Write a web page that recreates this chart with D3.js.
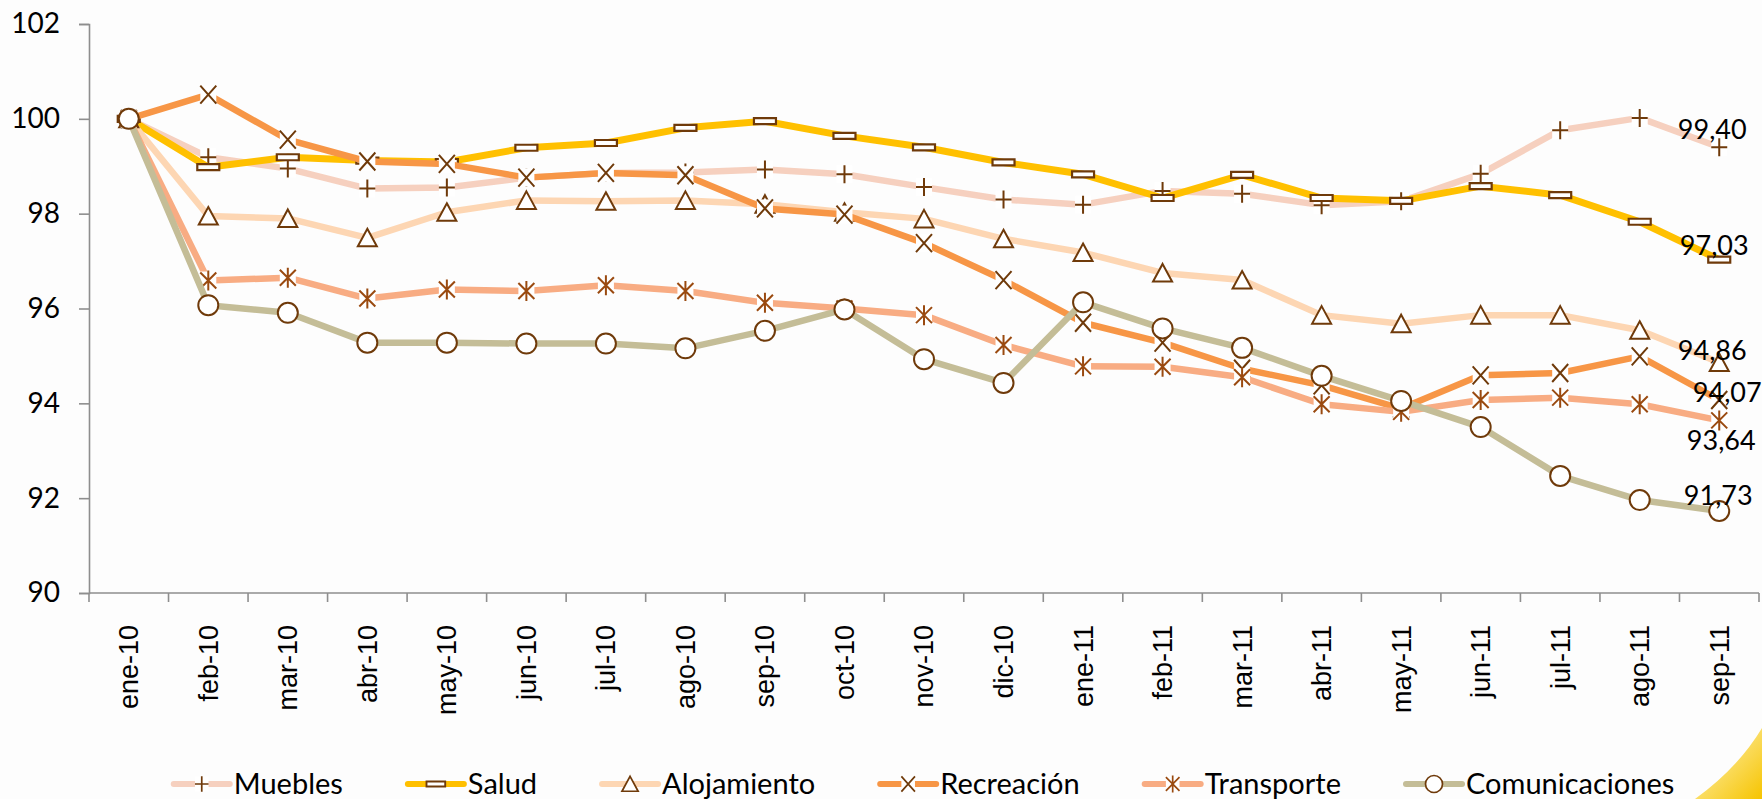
<!DOCTYPE html>
<html>
<head>
<meta charset="utf-8">
<script src="https://cdn.jsdelivr.net/npm/d3@7"></script>
<style>
  body { margin: 0; background: #fdfdfd; }
  svg { display: block; }
</style>
</head>
<body>
<div class="chart"></div>
<script>
// data (indice, ene-10 = 100)
const months = ["ene-10", "feb-10", "mar-10", "abr-10", "may-10", "jun-10", "jul-10",
  "ago-10", "sep-10", "oct-10", "nov-10", "dic-10", "ene-11", "feb-11", "mar-11",
  "abr-11", "may-11", "jun-11", "jul-11", "ago-11", "sep-11"];

const muebles = [100, 99.19, 98.95, 98.53, 98.55, 98.76, 98.86, 98.87, 98.93, 98.83, 98.56,
  98.30, 98.19, 98.48, 98.42, 98.18, 98.26, 98.84, 99.76, 100.02, 99.40];
const salud = [100, 98.98, 99.19, 99.12, 99.09, 99.39, 99.49, 99.81, 99.95, 99.64, 99.40,
  99.08, 98.83, 98.33, 98.82, 98.33, 98.27, 98.58, 98.39, 97.83, 97.03];
const alojamiento = [100, 97.95, 97.90, 97.49, 98.03, 98.28, 98.26, 98.28, 98.20, 98.03, 97.89,
  97.47, 97.18, 96.75, 96.60, 95.86, 95.68, 95.86, 95.86, 95.54, 94.86];
const recreacion = [100, 100.51, 99.56, 99.10, 99.05, 98.76, 98.86, 98.81, 98.11, 97.98, 97.38,
  96.60, 95.70, 95.28, 94.73, 94.38, 93.89, 94.59, 94.64, 94.99, 94.07];
const transporte = [100, 96.59, 96.65, 96.21, 96.40, 96.37, 96.49, 96.37, 96.12, 96.00, 95.86,
  95.23, 94.78, 94.77, 94.55, 93.98, 93.82, 94.07, 94.12, 93.98, 93.64];
const comunicaciones = [100, 96.07, 95.91, 95.28, 95.28, 95.26, 95.26, 95.16, 95.53, 95.98, 94.93,
  94.43, 96.13, 95.58, 95.17, 94.58, 94.05, 93.50, 92.47, 91.96, 91.73];

const yTicks = [90, 92, 94, 96, 98, 100, 102];

// last-point label nudges (dx, dy from the point) - layout only
const labelShift = {
  "Muebles": [-7, -8], "Salud": [-5, -5], "Alojamiento": [-7, -3],
  "Recreación": [8, 2], "Transporte": [2, 30], "Comunicaciones": [-1, -6]
};

const W = 1762, H = 799;
const margin = { top: 24, right: 3, bottom: 206, left: 89 };
const width = W - margin.left - margin.right,
  height = H - margin.top - margin.bottom;

const brown = "#6f3a0a";

const series = [
  { name: "Muebles", values: muebles, color: "#f6d0bf", marker: "plus" },
  { name: "Salud", values: salud, color: "#ffc000", marker: "rect" },
  { name: "Alojamiento", values: alojamiento, color: "#fdd6b3", marker: "tri" },
  { name: "Recreación", values: recreacion, color: "#f79646", marker: "x" },
  { name: "Transporte", values: transporte, color: "#f8ac83", marker: "star" },
  { name: "Comunicaciones", values: comunicaciones, color: "#c4bd97", marker: "circle" }
];

const svg = d3.select(".chart").append("svg")
  .attr("width", W)
  .attr("height", H);

// yellow swoosh of the slide in the corner
const defs = svg.append("defs");
const grad = defs.append("linearGradient").attr("id", "sw")
  .attr("x1", "0").attr("y1", "0").attr("x2", "1").attr("y2", "1");
grad.append("stop").attr("offset", "0").attr("stop-color", "#fff6c8");
grad.append("stop").attr("offset", "1").attr("stop-color", "#f6c400");
svg.append("path")
  .attr("d", `M1695,${H} Q1738,768 ${W},728 L${W},${H} Z`)
  .attr("fill", "url(#sw)");

const g = svg.append("g")
  .attr("transform", `translate(${margin.left},${margin.top})`);

const x = d3.scaleBand().domain(months).range([0, width]);
const y = d3.scaleLinear().domain([90, 102]).range([height, 0]);
const cx = d => x(d) + x.bandwidth() / 2;

// y axis
const yAxis = g.append("g")
  .call(d3.axisLeft(y).tickValues(yTicks).tickSize(10).tickPadding(19).tickFormat(d3.format("d")));
yAxis.select(".domain").attr("stroke", "#8e8e8e").attr("stroke-width", 1.6);
yAxis.selectAll(".tick line").attr("stroke", "#8e8e8e").attr("stroke-width", 1.6);
yAxis.selectAll("text")
  .attr("font-family", "Lato, 'Open Sans', sans-serif")
  .attr("font-size", 28)
  .attr("fill", "#000");

// x axis: line, ticks between categories, rotated labels
const xAxis = g.append("g").attr("transform", `translate(0,${height})`);
xAxis.append("line")
  .attr("x1", 0).attr("x2", width)
  .attr("stroke", "#8e8e8e").attr("stroke-width", 1.6);
const bounds = months.map(m => x(m)).concat([x(months[months.length - 1]) + x.bandwidth()]);
xAxis.selectAll(".xt").data(bounds).join("line")
  .attr("class", "xt")
  .attr("x1", d => d).attr("x2", d => d)
  .attr("y1", 0).attr("y2", 9)
  .attr("stroke", "#8e8e8e").attr("stroke-width", 1.6);
xAxis.selectAll(".xl").data(months).join("text")
  .attr("class", "xl")
  .attr("transform", d => `translate(${cx(d)},32) rotate(-90)`)
  .attr("text-anchor", "end")
  .attr("dy", "0.35em")
  .attr("font-family", "'Liberation Sans', Arial, sans-serif")
  .attr("font-size", 27)
  .attr("fill", "#000")
  .text(d => d);

// marker shapes
const markerPath = {
  plus: "M-8,0H8M0,-9V9",
  x: "M-8,-9L8,9M-8,9L8,-9",
  star: "M-8,-8L8,8M-8,8L8,-8M0,-10V10",
  tri: "M0,-9L9.5,8.5H-9.5Z",
  rect: "M-11,-3H11V3H-11Z",
  circle: d3.symbol(d3.symbolCircle, Math.PI * 100)()
};

function drawMarker(sel, type) {
  if (type === "plus" || type === "x" || type === "star") {
    sel.append("rect")
      .attr("x", -8).attr("y", -9).attr("width", 16).attr("height", 18)
      .attr("fill", "#fff");
  }
  sel.append("path")
    .attr("d", markerPath[type])
    .attr("fill", (type === "tri" || type === "rect" || type === "circle") ? "#fff" : "none")
    .attr("stroke", type === "star" ? "#9a4a10" : brown)
    .attr("stroke-width", type === "rect" ? 2.2 : 2);
}

const line = d3.line()
  .x((d, i) => cx(months[i]))
  .y(d => y(d));

series.forEach(s => {
  const sg = g.append("g").attr("class", "series");
  sg.append("path")
    .datum(s.values)
    .attr("d", line)
    .attr("fill", "none")
    .attr("stroke", s.color)
    .attr("stroke-width", s.name === "Salud" ? 7 : 6.5)
    .attr("stroke-linejoin", "round");
  sg.selectAll(".mk").data(s.values).join("g")
    .attr("class", "mk")
    .attr("transform", (d, i) => `translate(${cx(months[i])},${y(d)})`)
    .each(function () { drawMarker(d3.select(this), s.marker); });
});

// value labels on last point
series.forEach(s => {
  const last = s.values[s.values.length - 1];
  const sh = labelShift[s.name];
  g.append("text")
    .attr("x", cx(months[months.length - 1]) + sh[0])
    .attr("y", y(last) + sh[1])
    .attr("text-anchor", "middle")
    .attr("font-family", "Lato, 'Open Sans', sans-serif")
    .attr("font-size", 27)
    .attr("fill", "#000")
    .text(last.toFixed(2).replace(".", ","));
});

// legend
const legend = svg.append("g").attr("class", "legend");
const items = legend.selectAll(".item").data(series).join("g").attr("class", "item");
items.append("line")
  .attr("x1", 0).attr("x2", 56)
  .attr("stroke", d => d.color)
  .attr("stroke-width", 6)
  .attr("stroke-linecap", "round");
items.append("g")
  .attr("transform", "translate(28,0) scale(0.85)")
  .each(function (d) { drawMarker(d3.select(this), d.marker); });
items.append("text")
  .attr("x", 60)
  .attr("dy", "0.35em")
  .attr("font-family", "Lato, 'Open Sans', sans-serif")
  .attr("font-size", 29)
  .attr("fill", "#000")
  .text(d => d.name);

let pos = 0;
const offsets = [];
items.each(function () {
  offsets.push(pos);
  pos += 60 + d3.select(this).select("text").node().getComputedTextLength() + 65;
});
const total = pos - 65;
const start = margin.left + width / 2 - total / 2;
items.attr("transform", (d, i) => `translate(${start + offsets[i]},784)`);
</script>
</body>
</html>
